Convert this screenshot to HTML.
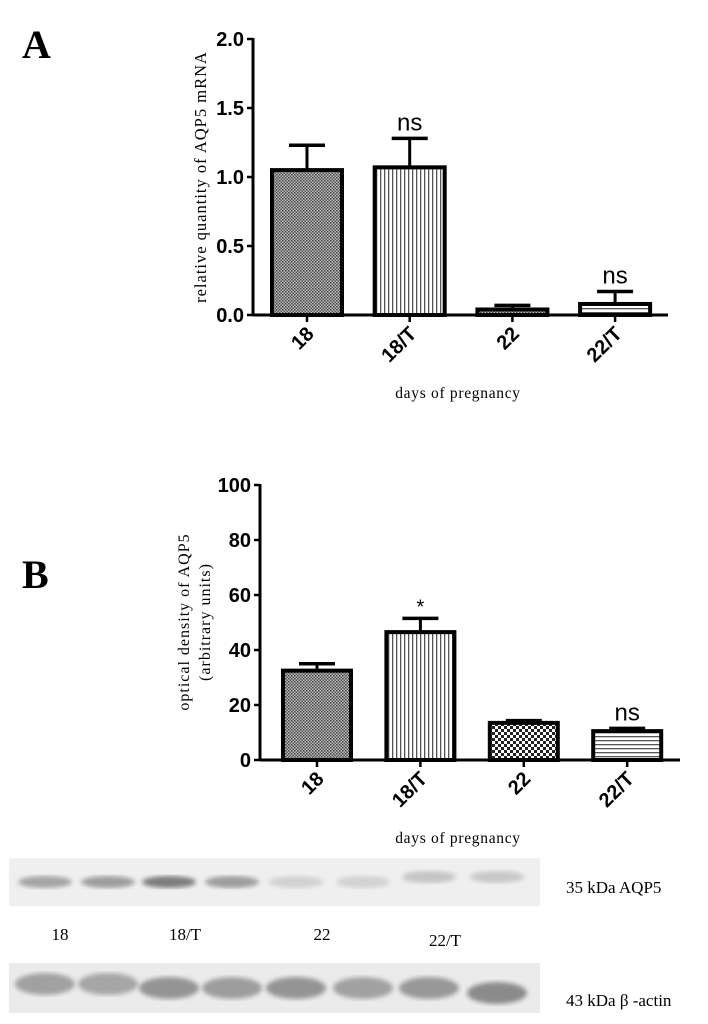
<!DOCTYPE html>
<html><head><meta charset="utf-8"><style>
body{margin:0;background:#fff;width:708px;height:1024px;overflow:hidden}
svg{display:block}
</style></head><body>
<svg width="708" height="1024" xmlns="http://www.w3.org/2000/svg">
<defs>
<pattern id="pDots" width="3" height="3" patternUnits="userSpaceOnUse"><rect width="3" height="3" fill="#bbb"/><rect width="1.5" height="1.5" fill="#444"/><rect x="1.5" y="1.5" width="1.5" height="1.5" fill="#555"/></pattern>
<pattern id="pVert" width="4" height="4" patternUnits="userSpaceOnUse"><rect width="4" height="4" fill="#fff"/><rect width="1.3" height="4" fill="#555"/></pattern>
<pattern id="pCheck" width="6" height="6" patternUnits="userSpaceOnUse"><rect width="6" height="6" fill="#fff"/><rect width="3" height="3" fill="#222"/><rect x="3" y="3" width="3" height="3" fill="#222"/></pattern>
<pattern id="pHor" width="4" height="4" patternUnits="userSpaceOnUse"><rect width="4" height="4" fill="#fff"/><rect width="4" height="1.3" fill="#555"/></pattern>
<filter id="blur"><feGaussianBlur stdDeviation="2.5"/></filter>
</defs>
<text x="22" y="58" font-family="Liberation Serif, serif" font-weight="bold" font-size="40">A</text>
<text x="22" y="588" font-family="Liberation Serif, serif" font-weight="bold" font-size="40">B</text>
<g id="chartA"></g>
<g id="chartB"></g>
<g id="blots"></g>
</svg>
<script>
const categories=["18","18/T","22","22/T"];
const valuesA=[1.05,1.07,0.04,0.08];
const errorsA=[1.23,1.28,0.07,0.17];
const annotA=["","ns","","ns"];
const ticksA=[0,0.5,1.0,1.5,2.0];
const valuesB=[32.5,46.5,13.5,10.5];
const errorsB=[35,51.5,14.3,11.5];
const annotB=["","*","","ns"];
const ticksB=[0,20,40,60,80,100];
const bandAQP5=[0.55,0.6,0.85,0.6,0.2,0.2,0.3,0.28];
const bandActin=[0.6,0.55,0.75,0.65,0.75,0.6,0.7,0.85];
const NS="http://www.w3.org/2000/svg";
function mk(p,t,a){const e=document.createElementNS(NS,t);for(const k in a)e.setAttribute(k,a[k]);p.appendChild(e);return e;}
const fills=["url(#pDots)","url(#pVert)","url(#pDots)","url(#pHor)"];
const fillsB=["url(#pDots)","url(#pVert)","url(#pCheck)","url(#pHor)"];
function chart(g,cfg){
 const y=v=>cfg.y0-(v-cfg.min)/(cfg.max-cfg.min)*(cfg.y0-cfg.y1);
 const x=i=>cfg.xc0+i*cfg.step;
 cfg.ticks.forEach(t=>{
  const l=mk(g,"line",{x1:cfg.ax-6,x2:cfg.ax,y1:y(t),y2:y(t),stroke:"#000","stroke-width":2.5});
  
  
  const tx=mk(g,"text",{x:cfg.ax-9,y:y(t)+7,"text-anchor":"end","font-family":"Liberation Sans, sans-serif","font-weight":"bold","font-size":20});
  tx.textContent=cfg.fmt(t);
  
  
 });
 const ya=mk(g,"line",{x1:cfg.ax,x2:cfg.ax,y1:cfg.y1-1,y2:cfg.y0+1,stroke:"#000","stroke-width":3});
 
 
 const xa=mk(g,"line",{x1:cfg.ax,x2:cfg.xend,y1:cfg.y0,y2:cfg.y0,stroke:"#000","stroke-width":3});
 
 
 categories.forEach((c,i)=>{
  const cx=x(i),bw=cfg.bw;
  const el=mk(g,"line",{x1:cx,x2:cx,y1:y(cfg.vals[i]),y2:y(cfg.errs[i]),stroke:"#000","stroke-width":3});
  
  
  const ec=mk(g,"line",{x1:cx-18,x2:cx+18,y1:y(cfg.errs[i]),y2:y(cfg.errs[i]),stroke:"#000","stroke-width":3.5});
  
  
  const r=mk(g,"rect",{x:cx-bw/2,y:y(cfg.vals[i]),width:bw,height:cfg.y0-y(cfg.vals[i]),fill:cfg.fills[i],stroke:"#000","stroke-width":4});
  
  
  const tk=mk(g,"line",{x1:cx,x2:cx,y1:cfg.y0,y2:cfg.y0+7,stroke:"#000","stroke-width":2.5});
  
  
  const lx=cx+8,ly=cfg.y0+20;
  const lb=mk(g,"text",{x:lx,y:ly,"text-anchor":"end","font-family":"Liberation Sans, sans-serif","font-weight":"bold","font-size":20,transform:`rotate(-45 ${lx} ${ly})`});
  lb.textContent=c;
  
  
  if(cfg.ann[i]){
   const a=mk(g,"text",{x:cx,y:y(cfg.errs[i])-(cfg.ann[i]=="*"?5:8),"text-anchor":"middle","font-family":"Liberation Sans, sans-serif","font-size":cfg.ann[i]=="*"?20:24});
   a.textContent=cfg.ann[i];
   
   
  }
 });
 const xt=mk(g,"text",{x:cfg.xtX,y:cfg.xtY,"text-anchor":"middle","font-family":"Liberation Serif, serif","font-size":15.5,"letter-spacing":"0.7"});
 xt.textContent="days of pregnancy";
 
 
 cfg.ytitle.forEach((t,k)=>{
  const tx=cfg.ytX+k*21;
  const yt=mk(g,"text",{x:tx,y:cfg.ytY,"text-anchor":"middle","font-family":"Liberation Serif, serif","font-size":cfg.ytSize,"letter-spacing":"1",transform:`rotate(-90 ${tx} ${cfg.ytY})`});
  yt.textContent=t;
  
  
 });
}
chart(document.getElementById("chartA"),{min:0,max:2,y0:315,y1:39,ax:253,xend:668,xc0:307,step:102.7,bw:70,vals:valuesA,errs:errorsA,ann:annotA,ticks:ticksA,fmt:t=>t.toFixed(1),fills:fills,xtX:458,xtY:398,ytitle:["relative quantity of AQP5 mRNA"],ytX:206,ytY:177,ytSize:16.5});
chart(document.getElementById("chartB"),{min:0,max:100,y0:760,y1:485,ax:260,xend:680,xc0:317,step:103.4,bw:68,vals:valuesB,errs:errorsB,ann:annotB,ticks:ticksB,fmt:t=>String(t),fills:fillsB,xtX:458,xtY:843,ytitle:["optical density of AQP5","(arbitrary units)"],ytX:189,ytY:622,ytSize:16});
// blots
const bg=document.getElementById("blots");
const laneX=[45,108,169,232,296,363,429,497];
const s1=mk(bg,"rect",{x:9,y:858,width:531,height:48,fill:"#efefef"});


const s2=mk(bg,"rect",{x:9,y:963,width:531,height:50,fill:"#ebebeb"});


bandAQP5.forEach((v,i)=>{
 const g=Math.round(235-v*130);
 const b=mk(bg,"ellipse",{cx:laneX[i],cy:882-(i>=6?5:0),rx:27,ry:6,fill:`rgb(${g},${g},${g})`,filter:"url(#blur)"});
 
 
});
bandActin.forEach((v,i)=>{
 const g=Math.round(215-v*90);
 const b=mk(bg,"ellipse",{cx:laneX[i],cy:984+(i>=2?4:0)+(i==7?5:0),rx:30,ry:11,fill:`rgb(${g},${g},${g})`,filter:"url(#blur)"});
 
 
});
const laneLbl=[["18",60],["18/T",185],["22",322],["22/T",445]];
laneLbl.forEach(([t,xx],i)=>{
 const e=mk(bg,"text",{x:xx,y:i==3?946:940,"text-anchor":"middle","font-family":"Liberation Serif, serif","font-size":17});
 e.textContent=t;
 
 
});
[["35 kDa AQP5",893],["43 kDa β -actin",1006]].forEach(([t,yy])=>{
 const e=mk(bg,"text",{x:566,y:yy,"font-family":"Liberation Serif, serif","font-size":17});
 e.textContent=t;
 
 
});
</script>
</body></html>
